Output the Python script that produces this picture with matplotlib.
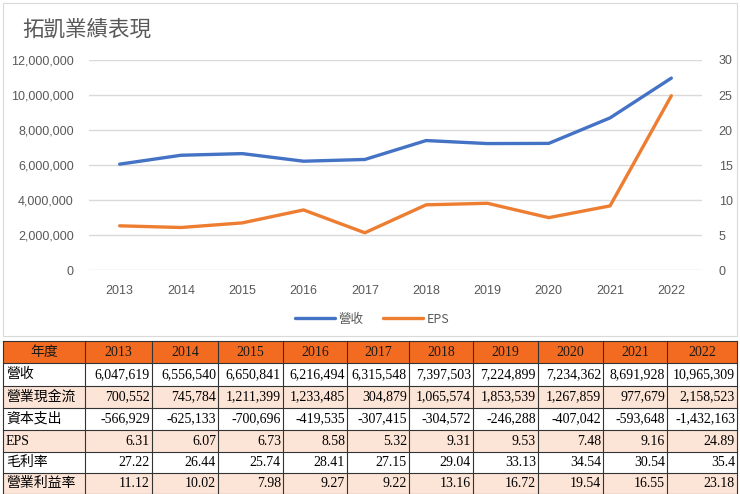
import matplotlib.pyplot as plt
from matplotlib.patches import Rectangle
from matplotlib.ticker import FuncFormatter, MultipleLocator

years = ['2013', '2014', '2015', '2016', '2017', '2018', '2019', '2020', '2021', '2022']
revenue = [6047619, 6556540, 6650841, 6216494, 6315548, 7397503, 7224899, 7234362, 8691928, 10965309]
op_cash = [700552, 745784, 1211399, 1233485, 304879, 1065574, 1853539, 1267859, 977679, 2158523]
capex = [-566929, -625133, -700696, -419535, -307415, -304572, -246288, -407042, -593648, -1432163]
eps = [6.31, 6.07, 6.73, 8.58, 5.32, 9.31, 9.53, 7.48, 9.16, 24.89]
gross = ['27.22', '26.44', '25.74', '28.41', '27.15', '29.04', '33.13', '34.54', '30.54', '35.4']
op_margin = ['11.12', '10.02', '7.98', '9.27', '9.22', '13.16', '16.72', '19.54', '16.55', '23.18']
row_names = ['營收', '營業現金流', '資本支出', 'EPS', '毛利率', '營業利益率']

W, H = 740, 494
fig = plt.figure(figsize=(W / 100, H / 100), dpi=100)
cjk = ['Noto Sans CJK TC', 'DejaVu Sans']
gray = '#595959'

# chart frame
fig.patches.append(Rectangle((3 / W, 1 - 336 / H), 734 / W, 333 / H, transform=fig.transFigure,
                             fill=False, edgecolor='#D9D9D9', lw=0.8))
fig.text(22 / W, 1 - 30 / H, '拓凱業績表現', family=cjk, fontsize=15.5, color=gray, va='center')

ax = fig.add_axes([89 / W, 1 - 270 / H, 613 / W, 210 / H])
x = range(len(years))
l1, = ax.plot(x, revenue, color='#4472C4', lw=2.4, solid_capstyle='round', label='營收')
ax.set_ylim(0, 12000000)
ax.set_xlim(-0.5, len(years) - 0.5)
ax.yaxis.set_major_locator(MultipleLocator(2000000))
ax.yaxis.set_major_formatter(FuncFormatter(lambda v, p: f'{int(v):,}'))
ax.set_xticks(list(x))
ax.set_xticklabels(years)
ax.grid(axis='y', color='#D9D9D9', lw=1)
ax.set_axisbelow(True)

ax2 = ax.twinx()
l2, = ax2.plot(x, eps, color='#ED7D31', lw=2.4, solid_capstyle='round', label='EPS')
ax2.set_ylim(0, 30)
ax2.yaxis.set_major_locator(MultipleLocator(5))

for a in (ax, ax2):
    for s in a.spines.values():
        s.set_visible(False)
    a.tick_params(length=0, colors=gray, labelsize=9)
ax.tick_params(axis='x', pad=11)
ax.tick_params(axis='y', pad=11)
ax2.tick_params(axis='y', pad=12)
for t in ax.get_xticklabels() + ax.get_yticklabels() + ax2.get_yticklabels():
    t.set_family(['Liberation Sans', 'DejaVu Sans'])

leg = fig.legend([l1, l2], ['營收', 'EPS'], loc='center', bbox_to_anchor=(372 / W, 1 - 319 / H),
                 ncol=2, frameon=False, prop={'family': cjk, 'size': 9},
                 handlelength=3.2, columnspacing=1.5, handletextpad=0.3)
for t in leg.get_texts():
    t.set_color(gray)

# table
tax = fig.add_axes([0, 0, 1, 1])
tax.set_xlim(0, W)
tax.set_ylim(H, 0)
tax.axis('off')

serif = ['Liberation Serif', 'Noto Sans CJK TC']
col_edges = [3, 85, 152, 218, 283, 347, 409, 473, 538, 603, 667, 737]
row_edges = [341, 363, 386, 408, 430, 452, 473, 494]

rows = [
    [f'{v:,}' for v in revenue],
    [f'{v:,}' for v in op_cash],
    [f'{v:,}' for v in capex],
    [f'{v:.2f}' for v in eps],
    gross,
    op_margin,
]
header = ['年度'] + years

for r in range(len(row_edges) - 1):
    y0, y1 = row_edges[r], row_edges[r + 1]
    if r == 0:
        bg = '#F26B21'
    elif r % 2 == 0:
        bg = '#FCE4D6'
    else:
        bg = 'white'
    tax.add_patch(Rectangle((col_edges[0], y0), col_edges[-1] - col_edges[0], y1 - y0,
                            facecolor=bg, edgecolor='none'))
    ym = (y0 + y1) / 2
    for c in range(len(col_edges) - 1):
        x0, x1 = col_edges[c], col_edges[c + 1]
        if r == 0:
            tax.text((x0 + x1) / 2, ym, header[c], ha='center', va='center',
                     family=serif, fontsize=10, color='#1a1a1a')
        elif c == 0:
            tax.text(x0 + 3, ym, row_names[r - 1], ha='left', va='center',
                     family=serif, fontsize=10, color='black')
        else:
            tax.text(x1 - 2, ym, rows[r - 1][c - 1], ha='right', va='center',
                     family=serif, fontsize=10, color='black')

for yv in row_edges:
    tax.plot([col_edges[0], col_edges[-1]], [yv, yv], color='#333333', lw=0.8)
for xv in col_edges:
    tax.plot([xv, xv], [row_edges[0], row_edges[-1]], color='#333333', lw=0.8)

fig.savefig('out.png', dpi=100)
